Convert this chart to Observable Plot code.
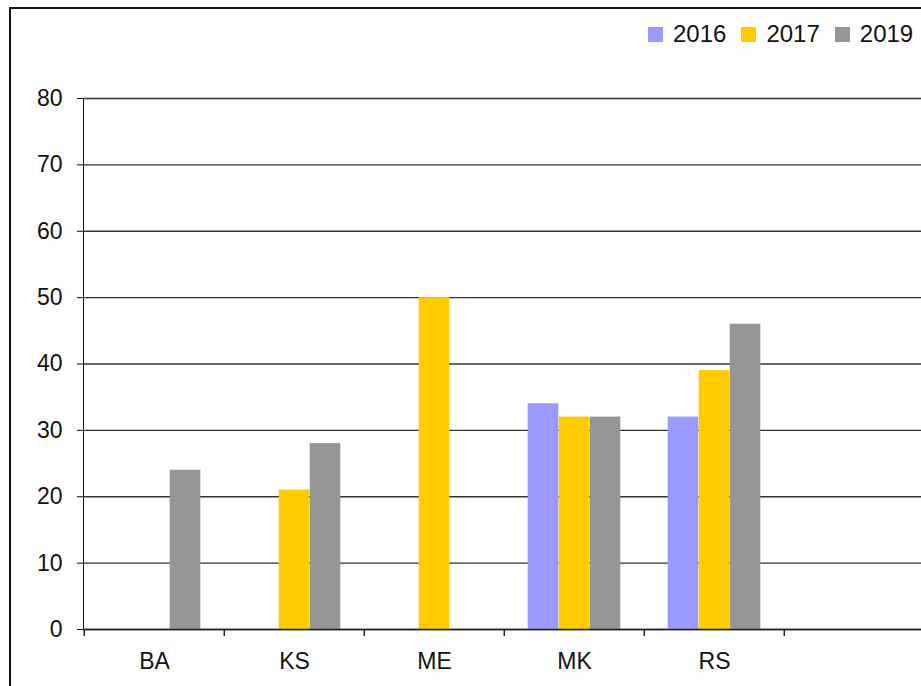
<!DOCTYPE html>
<html>
<head>
<meta charset="utf-8">
<script src="https://cdn.jsdelivr.net/npm/d3@7"></script>
<script src="https://cdn.jsdelivr.net/npm/@observablehq/plot@0.6"></script>
<style>
html, body { margin: 0; padding: 0; width: 921px; height: 686px; overflow: hidden; background: #fff; font-family: "Liberation Sans", Arial, sans-serif; }
#chart { position: absolute; left: 0; top: 0; }
#frame { position: absolute; left: 9px; top: 7px; width: 1000px; height: 1000px; border: 2px solid #111; z-index: 3; pointer-events: none; }
#legend { position: absolute; left: 648px; top: 22px; z-index: 4; white-space: nowrap; font-size: 24px; line-height: 24px; color: #111; }
#legend .sw { display: inline-block; width: 15px; height: 15px; vertical-align: baseline; margin-right: 10px; }
#legend .lb { margin-right: 15px; }
</style>
</head>
<body>
<div id="chart"></div>
<div id="frame"></div>
<div id="legend"></div>
<script>
// ---- data ----
const countries = ["BA", "KS", "ME", "MK", "RS", ""];
const years = ["2016", "2017", "2019"];
const v2016 = [null, null, null, 34, 32];
const v2017 = [null, 21, 50, 32, 39];
const v2019 = [24, 28, null, 32, 46];
const yTicks = [0, 10, 20, 30, 40, 50, 60, 70, 80];
const colors = ["#9999ff", "#ffcc00", "#969696"];

const series = [v2016, v2017, v2019];
const rows = [];
series.forEach((vals, j) => {
  vals.forEach((v, i) => {
    if (v != null) rows.push({country: countries[i], year: years[j], value: v});
  });
});

// ---- layout constants (style) ----
const W = 921, H = 686;
const xLeft = 83, xRight = 925.4;
const step = (xRight - xLeft) / countries.length;
const barW = 31;
const inset = (step - barW) / 2;

const barMarks = years.map((yr, j) =>
  Plot.barY(rows.filter(d => d.year === yr), {
    x: "country", y: "value", fill: colors[j],
    dx: (j - 1) * barW, insetLeft: inset, insetRight: inset
  })
);

const chart = Plot.plot({
  width: W,
  height: H,
  marginTop: 98,
  marginBottom: 57,
  marginLeft: xLeft,
  marginRight: 0,
  style: {fontSize: "23px", fontFamily: "'Liberation Sans', Arial, sans-serif", color: "#111", background: "transparent"},
  x: {domain: countries, range: [xLeft, xRight], padding: 0, tickSize: 0, tickPadding: 23, label: null},
  y: {domain: [0, 80], ticks: 8, tickSize: 6, tickPadding: 15, line: true, label: null},
  marks: [
    Plot.ruleY(yTicks, {stroke: "#333", strokeWidth: 1.3}),
    ...barMarks,
    Plot.ruleY([0], {stroke: "#222", strokeWidth: 1.5}),
    Plot.ruleX(countries, {x: d => d, y1: 0, y2: 0, dx: -step / 2, insetBottom: -7, stroke: "#222", strokeWidth: 1.5})
  ]
});
document.getElementById("chart").appendChild(chart);

// ---- legend ----
const legend = document.getElementById("legend");
years.forEach((yr, j) => {
  const sw = document.createElement("span");
  sw.className = "sw";
  sw.style.background = colors[j];
  const lb = document.createElement("span");
  lb.className = "lb";
  lb.textContent = yr;
  legend.appendChild(sw);
  legend.appendChild(lb);
});
</script>
</body>
</html>
